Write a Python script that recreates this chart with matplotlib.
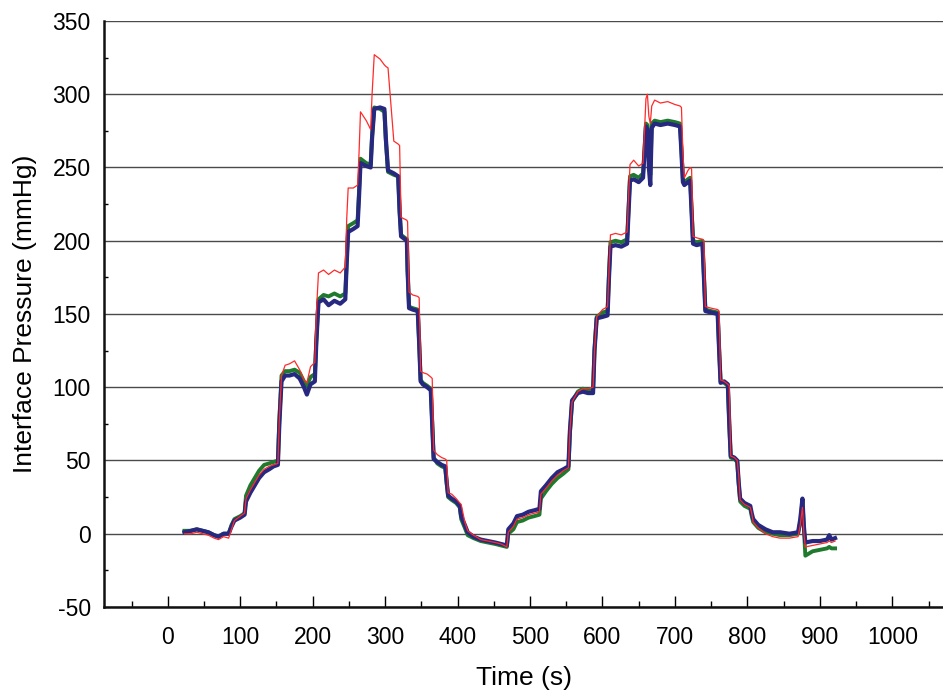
import numpy as np
import matplotlib.pyplot as plt
from matplotlib.ticker import MultipleLocator

plt.rcParams['font.family'] = ['Liberation Sans', 'DejaVu Sans']
plt.rcParams['axes.unicode_minus'] = False

# time (s), shared by all three sensors
time_s = [23, 32, 40, 48, 56, 64, 70, 77, 84, 88, 92, 100, 106, 108, 114, 120, 126, 133,
          140, 146, 152, 154, 157, 162, 168, 175, 182, 188, 192, 197, 203, 205, 208, 215,
          222, 230, 238, 245, 247, 249, 256, 262, 264, 266, 274, 280, 282, 285, 293, 299,
          301, 304, 312, 318, 320, 322, 330, 331, 333, 338, 345, 347, 349, 352, 358, 363,
          365, 367, 372, 378, 383, 385, 387, 392, 398, 403, 405, 410, 414, 422, 432, 442,
          452, 460, 468, 470, 477, 482, 490, 498, 506, 513, 515, 522, 530, 538, 546, 553,
          555, 558, 566, 573, 580, 587, 589, 592, 600, 607, 609, 611, 618, 626, 634, 636,
          638, 643, 650, 656, 658, 660, 662, 664, 666, 668, 672, 680, 690, 700, 707, 709,
          711, 713, 718, 721, 723, 725, 730, 738, 740, 742, 750, 759, 761, 763, 768, 773,
          775, 777, 782, 786, 788, 790, 796, 804, 806, 808, 815, 825, 835, 845, 858, 870,
          873, 876, 878, 880, 890, 900, 910, 913, 916, 921]

blue = [1, 2, 3, 2, 1, -1, -2, 0, 0, 5, 9, 11, 13, 22, 28, 33, 38, 42,
        44, 46, 47, 75, 104, 108, 108, 109, 106, 100, 95, 102, 104, 130, 158, 160,
        156, 159, 157, 160, 185, 206, 208, 210, 230, 253, 251, 250, 270, 290, 291, 290,
        270, 248, 246, 244, 220, 203, 200, 180, 154, 153, 152, 130, 104, 102, 100, 98,
        75, 51, 49, 47, 46, 35, 26, 24, 22, 19, 12, 6, 1, -2, -4, -5,
        -6, -7, -8, 3, 7, 12, 13, 15, 16, 17, 29, 33, 38, 42, 44, 46,
        70, 91, 96, 97, 96, 96, 125, 147, 148, 149, 175, 196, 197, 196, 198, 220,
        241, 242, 240, 243, 260, 278, 276, 250, 238, 277, 280, 279, 280, 279, 278, 260,
        240, 238, 240, 241, 220, 198, 197, 198, 175, 152, 151, 150, 125, 103, 104, 102,
        75, 53, 52, 50, 35, 24, 21, 19, 14, 10, 6, 3, 1, 1, 0, 1,
        10, 24, 5, -6, -5, -5, -4, -1, -4, -3]

green = [2, 2, 3, 2, 1, -1, -2, 0, 0, 6, 10, 12, 14, 26, 33, 38, 43, 47,
         48, 49, 50, 78, 108, 111, 111, 112, 110, 104, 101, 107, 109, 132, 160, 163,
         162, 164, 162, 164, 187, 210, 212, 214, 234, 256, 253, 252, 272, 291, 290, 288,
         268, 247, 245, 244, 220, 204, 201, 180, 155, 154, 153, 130, 105, 103, 101, 99,
         75, 52, 48, 46, 45, 34, 25, 23, 21, 18, 10, 4, -1, -3, -5, -6,
         -7, -8, -9, 0, 3, 8, 9, 11, 12, 13, 24, 29, 34, 38, 41, 44,
         68, 90, 97, 99, 98, 98, 126, 148, 151, 152, 178, 199, 200, 199, 201, 222,
         244, 245, 243, 246, 262, 280, 279, 255, 245, 280, 282, 281, 282, 281, 280, 262,
         242, 240, 242, 243, 222, 200, 199, 200, 176, 153, 152, 151, 126, 104, 103, 101,
         75, 52, 51, 49, 34, 22, 19, 17, 12, 8, 4, 1, 0, -1, -1, 0,
         8, 22, 3, -15, -12, -11, -10, -9, -10, -10]

red = [0, 0, 1, 0, -1, -3, -4, -2, -3, 3, 9, 12, 14, 24, 30, 35, 40, 44,
       46, 47, 48, 78, 108, 115, 116, 118, 112, 105, 103, 114, 117, 150, 178, 180,
       177, 180, 178, 182, 215, 236, 236, 238, 260, 288, 282, 276, 300, 327, 324, 320,
       319, 318, 268, 266, 265, 216, 214, 213, 165, 163, 162, 161, 111, 110, 109, 107,
       106, 57, 54, 52, 51, 50, 28, 27, 24, 21, 20, 8, 2, -1, -4, -5,
       -6, -7, -9, 1, 5, 10, 11, 13, 14, 15, 27, 31, 36, 40, 43, 45,
       70, 90, 97, 99, 99, 100, 125, 148, 153, 155, 180, 204, 205, 204, 206, 230,
       252, 255, 251, 253, 275, 297, 300, 285, 280, 292, 296, 294, 295, 293, 292, 291,
       260, 243, 248, 250, 249, 203, 202, 201, 200, 155, 154, 153, 152, 105, 104, 102,
       101, 53, 52, 50, 40, 23, 20, 18, 14, 8, 4, 0, -2, -3, -3, -2,
       6, 18, 0, -9, -8, -7, -6, -5, -6, -5]

fig = plt.figure(figsize=(9.43, 6.91), dpi=100)
ax = fig.add_axes([0.1103, 0.1216, 0.8897, 0.848])

ax.plot(time_s, green, color='#1f7a2e', lw=2.8, zorder=3)
ax.plot(time_s, blue, color='#27287f', lw=3.0, zorder=4)
ax.plot(time_s, red, color='#ff2a2a', lw=0.9, zorder=5)

ax.set_xlim(-88, 1070)
ax.set_ylim(-50, 350)
ax.xaxis.set_major_locator(MultipleLocator(100))
ax.xaxis.set_minor_locator(MultipleLocator(50))
ax.yaxis.set_major_locator(MultipleLocator(50))
ax.yaxis.set_minor_locator(MultipleLocator(25))

ax.grid(axis='y', which='major', color='#4a4a4a', lw=1.0)
ax.set_axisbelow(True)
for s in ['top', 'right']:
    ax.spines[s].set_visible(False)
for s in ['left', 'bottom']:
    ax.spines[s].set_linewidth(1.8)
    ax.spines[s].set_color('#111111')

ax.tick_params(axis='x', which='major', direction='in', length=8, width=1, pad=14, labelsize=16.5)
ax.tick_params(axis='x', which='minor', direction='in', length=4, width=1)
ax.tick_params(axis='y', which='major', direction='in', length=0, pad=9.5, labelsize=16.5)
ax.tick_params(axis='y', which='minor', direction='in', length=3, width=1)
ax.set_xticks(np.arange(0, 1001, 100))

ax.set_xlabel('Time (s)', fontsize=19, labelpad=12)
ax.set_ylabel('Interface Pressure (mmHg)', fontsize=19, labelpad=11)

fig.savefig('out.png', dpi=100)
